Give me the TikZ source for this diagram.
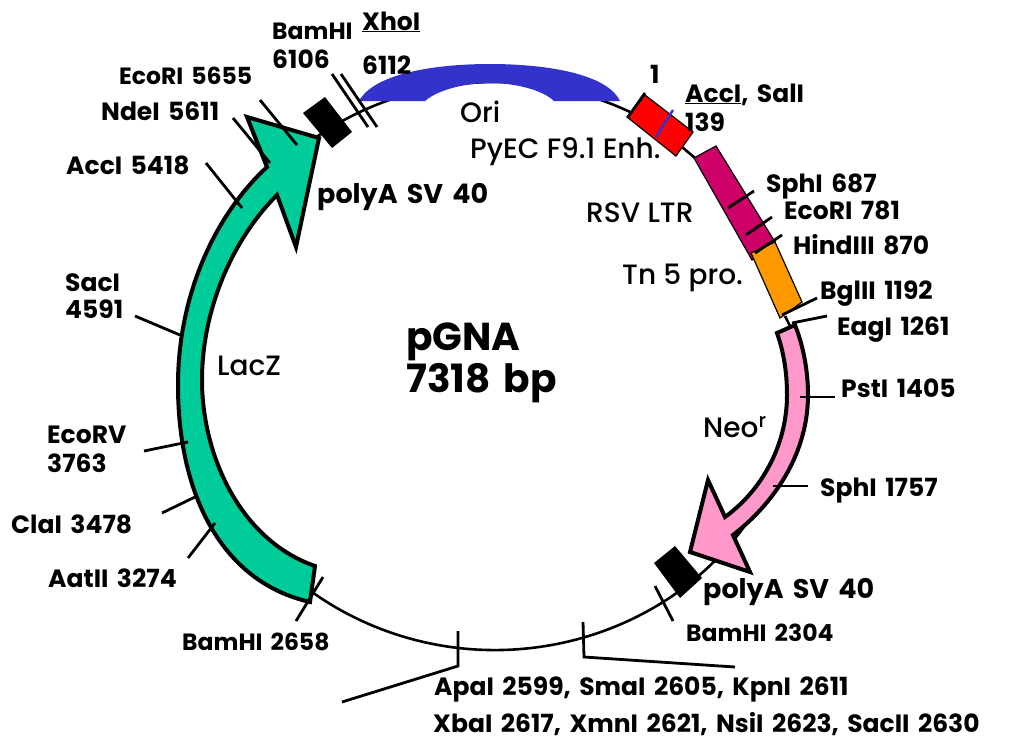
\documentclass[tikz,border=0pt]{standalone}
\usepackage{fontspec}
\setmainfont{Poppins}[WordSpace=1.6]
\newfontfamily\poppinsmed{Poppins Medium}
\definecolor{lacgreen}{HTML}{00CC99}
\definecolor{neopink}{HTML}{FF99CC}
\definecolor{ltrred}{HTML}{CC0066}
\definecolor{tnorange}{HTML}{FF9900}
\definecolor{oriblue}{HTML}{3333CC}
\tikzset{
	backbone/.style={line width=2.6pt},
	sitetick/.style={line width=2.8pt},
	genearrow/.style={draw,line width=4pt,miter limit=6},
	lbl/.style={anchor=base west,inner sep=0pt,font=\fontsize{25}{28}\selectfont\bfseries},
	lblsmall/.style={anchor=base west,inner sep=0pt,font=\fontsize{23.5}{28}\selectfont\bfseries},
	lblplain/.style={anchor=base west,inner sep=0pt,font=\fontsize{28}{32}\poppinsmed\selectfont},
	lblbig/.style={anchor=base west,inner sep=0pt,font=\fontsize{27}{32}\selectfont\bfseries},
	lblhuge/.style={anchor=base west,inner sep=0pt,font=\fontsize{39}{44}\selectfont\bfseries}
}
\begin{document}
\begin{tikzpicture}[x=1pt,y=-1pt]
	\useasboundingbox (0,0) rectangle (1011,742);
	\draw[backbone] (495,366) ++(25:302 and 284) arc [start angle=25,end angle=300,x radius=302,y radius=284];
	\coordinate (enhend) at (682,147); \coordinate (ltrstart) at (695,158); \draw[backbone] (enhend) -- (ltrstart);
	\coordinate (tnend) at (785,316); \coordinate (neostart) at (790,326); \draw[backbone] (tnend) -- (neostart);
	\fill[oriblue] (359,101) .. controls (375,72) and (440,64) .. (490,64) .. controls (540,64) and (606,72) .. (620,101) -- (554,101) .. controls (540,88) and (510,83) .. (490,83) .. controls (470,83) and (440,88) .. (425,101) -- cycle;
	\fill (325,97) -- (352,132) -- (332,148) -- (303,113) -- cycle;
	\fill (675,546) -- (702,578) -- (680,598) -- (654,563) -- cycle;
	\draw[fill=red,line width=1.2pt] (645,95) -- (693,132) -- (676,156) -- (627,117) -- cycle;
	\draw[line width=2.8pt] (645,93) -- (628,117);
	\draw[oriblue,line width=2.4pt] (673,110) -- (656,137);
	\draw[fill=ltrred,line width=1.2pt] (694,158) -- (716,146) -- (775,242) -- (752,260) -- cycle;
	\draw[fill=tnorange,line width=1.2pt] (751,253) -- (775,242) -- (802,302) -- (780,318) -- cycle;
	\draw[genearrow,fill=lacgreen] (310,602) .. controls (222,582) and (178,495) .. (178,385) .. controls (178,295) and (215,215) .. (267,167) -- (247,117) -- (319,138) -- (296,247) -- (277,195) .. controls (232,240) and (202,310) .. (202,380) .. controls (202,455) and (240,540) .. (315,566) -- cycle;
	\draw[genearrow,fill=neopink] (795,325) .. controls (803,345) and (808,370) .. (808,395) .. controls (808,450) and (778,500) .. (733,535) -- (750,572) -- (690,552) -- (708,480) -- (725,517) .. controls (762,490) and (787,445) .. (787,395) .. controls (787,370) and (783,350) .. (777,333) -- cycle;
	\coordinate (xhoa) at (332,74); \coordinate (xhob) at (368,127); \draw[sitetick] (xhoa) -- (xhob);
	\coordinate (bamAa) at (341,74); \coordinate (bamAb) at (377,127); \draw[sitetick] (bamAa) -- (bamAb);
	\coordinate (sphAa) at (728,208); \coordinate (sphAb) at (754,191); \draw[sitetick] (sphAa) -- (sphAb);
	\coordinate (ecoAa) at (746,235); \coordinate (ecoAb) at (772,217); \draw[sitetick] (ecoAa) -- (ecoAb);
	\coordinate (hinda) at (755,253); \coordinate (hindb) at (782,235); \draw[sitetick] (hinda) -- (hindb);
	\coordinate (bgla) at (782,315); \coordinate (bglb) at (817,298); \draw[sitetick] (bgla) -- (bglb);
	\coordinate (eaga) at (792,323); \coordinate (eagb) at (827,316); \draw[sitetick] (eaga) -- (eagb);
	\coordinate (psta) at (800,397); \coordinate (pstb) at (835,397); \draw[sitetick] (psta) -- (pstb);
	\coordinate (sphBa) at (773,486); \coordinate (sphBb) at (808,486); \draw[sitetick] (sphBa) -- (sphBb);
	\coordinate (bamBa) at (655,586); \coordinate (bamBb) at (673,621); \draw[sitetick] (bamBa) -- (bamBb);
	\coordinate (apaa) at (458,631); \coordinate (apab) at (458,666); \coordinate (apac) at (342,702); \draw[sitetick] (apaa) -- (apab) -- (apac);
	\coordinate (xbaa) at (583,622); \coordinate (xbab) at (584,657); \coordinate (xbac) at (735,667); \draw[sitetick] (xbaa) -- (xbab) -- (xbac);
	\coordinate (bamCa) at (323,577); \coordinate (bamCb) at (296,621); \draw[sitetick] (bamCa) -- (bamCb);
	\coordinate (aata) at (215,523); \coordinate (aatb) at (188,558); \draw[sitetick] (aata) -- (aatb);
	\coordinate (claa) at (195,497); \coordinate (clab) at (162,513); \draw[sitetick] (claa) -- (clab);
	\coordinate (ecoBa) at (188,442); \coordinate (ecoBb) at (144,451); \draw[sitetick] (ecoBa) -- (ecoBb);
	\coordinate (saca) at (180,335); \coordinate (sacb) at (135,316); \draw[sitetick] (saca) -- (sacb);
	\coordinate (acca) at (242,208); \coordinate (accb) at (206,163); \draw[sitetick] (acca) -- (accb);
	\coordinate (ndea) at (270,163); \coordinate (ndeb) at (233,118); \draw[sitetick] (ndea) -- (ndeb);
	\coordinate (ecoCa) at (297,145); \coordinate (ecoCb) at (260,100); \draw[sitetick] (ecoCa) -- (ecoCb);
	\node[lblsmall] (bam6106) at (272,39) {BamHI};
	\node[lbl] (num6106) at (272,68) {6106};
	\node[lbl] (xho) at (362,30) {\underline{XhoI}};
	\node[lbl] (num6112) at (362,74) {6112};
	\node[lblsmall] (eco5655) at (119,84) {EcoRI 5655};
	\node[lbl] (nde5611) at (101,120) {NdeI 5611};
	\node[lbl] (acc5418) at (66,174) {AccI 5418};
	\node[lbl] (sac) at (65,291) {SacI};
	\node[lbl] (num4591) at (65,318) {4591};
	\node[lbl] (ecorv) at (47,443) {EcoRV};
	\node[lbl] (num3763) at (47,472) {3763};
	\node[lbl] (cla3478) at (11,533) {ClaI 3478};
	\node[lbl] (aat3274) at (48,587) {AatII 3274};
	\node[lblsmall] (bam2658) at (182,650) {BamHI 2658};
	\node[lbl] (apaline) at (434,695) {ApaI 2599, SmaI 2605, KpnI 2611};
	\node[lbl] (xbaline) at (433,732) {XbaI 2617, XmnI 2621, NsiI 2623, SacII 2630};
	\node[lblsmall] (bam2304) at (686,641) {BamHI 2304};
	\node[lblbig] (polyb) at (703,598) {polyA SV 40};
	\node[lblbig] (polya) at (317,203) {polyA SV 40};
	\node[lbl] (sph1757) at (820,496) {SphI 1757};
	\node[lbl] (pst1405) at (841,397) {PstI 1405};
	\node[lblplain] (neo) at (703,437) {Neo\textsuperscript{r}};
	\node[lbl] (eag1261) at (837,335) {EagI 1261};
	\node[lbl] (bgl1192) at (820,299) {BglII 1192};
	\node[lblplain] (tnpro) at (622,284) {Tn 5 pro.};
	\node[lbl] (hind870) at (793,254) {HindIII 870};
	\node[lbl] (eco781) at (784,219) {EcoRI 781};
	\node[lbl] (sph687) at (766,192) {SphI 687};
	\node[lblplain] (rsv) at (586,222) {RSV LTR};
	\node[lblplain] (pyec) at (470,158) {PyEC F9.1 Enh.};
	\node[lblplain] (ori) at (460,122) {Ori};
	\node[lbl] (accsal) at (685,102) {\underline{AccI}, SalI};
	\node[lbl] (num139) at (685,131) {139};
	\node[lbl] (numone) at (650,83) {1};
	\node[lblplain] (lacz) at (217,375) {LacZ};
	\node[lblhuge] (pgna) at (406,350) {pGNA};
	\node[lblhuge] (size) at (406,392) {7318 bp};
\end{tikzpicture}
\end{document}
